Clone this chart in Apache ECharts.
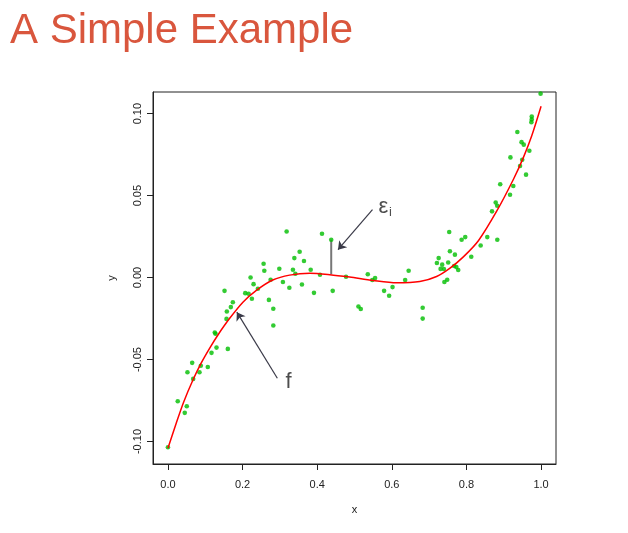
<!DOCTYPE html>
<html><head><meta charset="utf-8">
<script src="https://cdn.jsdelivr.net/npm/echarts/dist/echarts.min.js"></script>
<style>html,body{margin:0;padding:0;background:#fff}#c{width:628px;height:533px}</style>
</head><body><div id="c"></div>
<script>
// observed data points
const pointX = [0.000,0.0263,0.0505,0.0451,0.0650,0.0677,0.0523,0.0881,0.0846,0.1068,
0.1168,0.1302,0.1605,0.1256,0.1275,0.1570,0.1579,0.1686,0.1740,0.1517,
0.2072,0.2161,0.2250,0.2411,0.2295,0.2215,0.2564,0.2583,0.2706,0.2824,
0.2824,0.2752,0.2985,0.3082,0.3181,0.3254,0.3350,0.3388,0.3415,0.3530,
0.3592,0.3646,0.3826,0.3914,0.4075,0.4129,0.4376,0.4416,0.4773,0.5106,
0.5168,0.5356,0.5477,0.5552,0.5793,0.6019,0.5928,0.6357,0.6451,0.6827,
0.6827,0.7256,0.7208,0.7350,0.7511,0.7307,0.7396,0.7557,0.7691,0.7670,
0.7729,0.7780,0.7485,0.7409,0.8129,0.8381,0.7871,0.7968,0.7538,0.8558,
0.8827,0.8685,0.8784,0.8824,0.8905,0.9256,0.9168,0.9179,0.9495,0.9436,
0.9597,0.9686,0.9536,0.9477,0.9364,0.9750,0.9750,0.9740,0.9987];
const pointY = [-0.1035,-0.0754,-0.0785,-0.0825,-0.0520,-0.0618,-0.0577,-0.0538,-0.0577,-0.0545,
-0.0459,-0.0427,-0.0435,-0.0335,-0.0343,-0.0252,-0.0207,-0.0180,-0.0150,-0.0081,
-0.0095,-0.0099,-0.0129,-0.0068,-0.0040,0.0001,0.0084,0.0042,-0.0136,-0.0190,
-0.0292,-0.0013,0.0054,-0.0027,0.0281,-0.0062,0.0048,0.0119,0.0023,0.0158,
-0.0042,0.0101,0.0048,-0.0093,0.0017,0.0267,0.0231,-0.0081,0.0005,-0.0176,
-0.0192,0.0020,-0.0015,-0.0003,-0.0081,-0.0058,-0.0111,-0.0015,0.0042,-0.0184,
-0.0250,0.0119,0.0089,0.0079,0.0092,0.0053,0.0052,0.0161,0.0140,0.0071,
0.0064,0.0046,-0.0013,-0.0027,0.0127,0.0196,0.0231,0.0247,0.0278,0.0247,
0.0231,0.0404,0.0458,0.0438,0.0569,0.0559,0.0505,0.0733,0.0719,0.0681,
0.0628,0.0774,0.0811,0.0826,0.0888,0.0982,0.0965,0.0948,0.1122];
// true function f
const curveX = [0.000,0.022,0.042,0.067,0.089,0.112,0.134,0.165,0.201,0.237,0.281,0.326,0.380,0.434,0.487,0.550,0.613,0.675,0.720,0.756,0.791,0.832,0.881,0.926,0.953,0.975,1.000];
const curveY = [-0.1041,-0.0890,-0.0760,-0.0625,-0.0522,-0.0430,-0.0350,-0.0250,-0.0150,-0.0078,-0.0015,0.0015,0.0027,0.0018,0.0003,-0.0018,-0.0032,-0.0024,0.0007,0.0058,0.0125,0.0225,0.0405,0.0600,0.0735,0.0865,0.1045];
// residual epsilon_i: point 47 down to the curve
const residualX = [0.4376, 0.4376];
const residualY = [0.0231, 0.0020];
// annotation arrows [fromX, fromY, toX, toY]
const arrowEps = [0.5482, 0.0414, 0.4558, 0.0170];
const arrowF = [0.2932, -0.0614, 0.1847, -0.0211];
// annotation texts
const annText = ['ε', 'i', 'f'];
const annX = [0.5772, 0.5960, 0.3235];
const annY = [0.0432, 0.0396, -0.0635];
const annSize = [22, 13, 22];
const xTicks = [0, 0.2, 0.4, 0.6, 0.8, 1.0];
const yTicks = [-0.1, -0.05, 0, 0.05, 0.1];

const chart = echarts.init(document.getElementById('c'), null, {renderer: 'canvas'});
const FONT = 'Liberation Sans, Arial, sans-serif';
const axisCommon = {
  type: 'value', splitLine: {show: false},
  axisLine: {show: true, onZero: false, lineStyle: {color: '#222', width: 1}},
  nameLocation: 'middle',
  nameTextStyle: {fontFamily: FONT, fontSize: 11, color: '#222'}
};
chart.setOption({
  backgroundColor: '#fff',
  animation: false,
  title: {text: 'A Simple Example', left: 5, top: 5,
    textStyle: {fontFamily: FONT, fontSize: 42, fontWeight: 'normal', color: '#D9563D'}},
  grid: {left: 153, top: 92, width: 403, height: 372, show: true, borderColor: '#222', borderWidth: 1, backgroundColor: 'transparent'},
  xAxis: Object.assign({}, axisCommon, {
    min: -0.04, max: 1.04, name: 'x', nameGap: 40,
    axisTick: {show: true, customValues: xTicks, length: 6, lineStyle: {color: '#222'}},
    axisLabel: {customValues: xTicks, formatter: v => v.toFixed(1), margin: 15, fontFamily: FONT, fontSize: 11, color: '#222'}
  }),
  yAxis: Object.assign({}, axisCommon, {
    min: -0.1137, max: 0.1132, name: 'y', nameGap: 36, nameRotate: 90,
    axisTick: {show: true, customValues: yTicks, length: 6, lineStyle: {color: '#222'}},
    axisLabel: {customValues: yTicks, formatter: v => v.toFixed(2), rotate: 90, margin: 10, fontFamily: FONT, fontSize: 11, color: '#222'}
  }),
  series: [
    {type: 'scatter', data: pointX.map((x, i) => [x, pointY[i]]), symbol: 'circle', symbolSize: 4.6,
      itemStyle: {color: '#00BE00'}, z: 3},
    {type: 'line', data: curveX.map((x, i) => [x, curveY[i]]), smooth: 0.3, showSymbol: false,
      lineStyle: {color: '#FF0000', width: 1.5}, z: 4},
    {type: 'line', data: residualX.map((x, i) => [x, residualY[i]]), showSymbol: false,
      lineStyle: {color: '#777', width: 2}, z: 2},
    {type: 'lines', coordinateSystem: 'cartesian2d', z: 5,
      symbol: ['none', 'arrow'], symbolSize: 8,
      lineStyle: {color: '#3a3a48', width: 1.2, opacity: 1},
      data: [arrowEps, arrowF].map(a => ({coords: [[a[0], a[1]], [a[2], a[3]]]}))},
    {type: 'scatter', symbolSize: 0, z: 6, silent: true,
      data: annText.map((t, i) => ({value: [annX[i], annY[i]], name: t,
        label: {show: true, position: 'inside', formatter: t, fontFamily: FONT, fontSize: annSize[i], color: '#222'}}))}
  ]
});
</script>
</body></html>
